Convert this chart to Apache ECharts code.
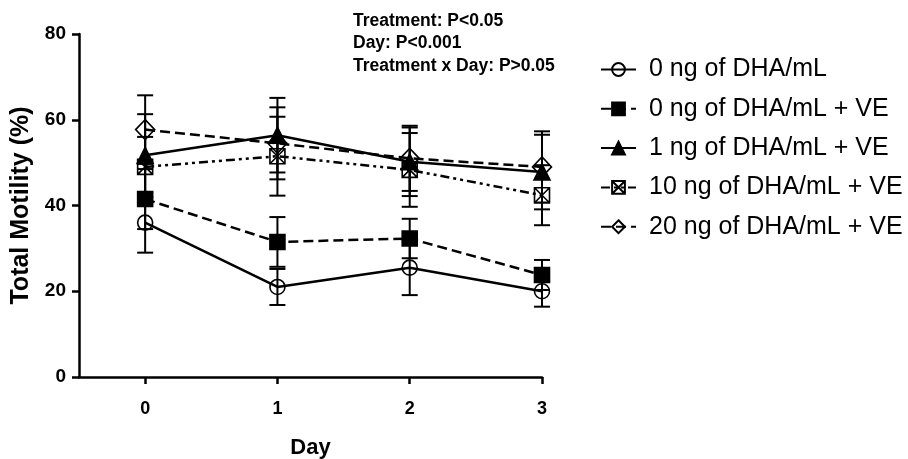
<!DOCTYPE html>
<html>
<head>
<meta charset="utf-8">
<script src="https://cdn.jsdelivr.net/npm/echarts@6/dist/echarts.min.js"></script>
<style>
html,body{margin:0;padding:0;background:#fff;}
#chart{width:908px;height:459px;}
</style>
</head>
<body>
<div id="chart"></div>
<script>
var days = [0, 1, 2, 3];
var dayTicks = [0, 1, 2, 3];
var yTicks = [0, 20, 40, 60, 80];
var seriesNames = ['0 ng of DHA/mL', '0 ng of DHA/mL + VE', '1 ng of DHA/mL + VE', '10 ng of DHA/mL + VE', '20 ng of DHA/mL + VE'];
var mean0 = [36, 21, 25.5, 20];
var sem0 = [7, 4.2, 6.4, 3.6];
var mean0VE = [41.5, 31.5, 32.3, 23.8];
var sem0VE = [7, 5.8, 4.6, 3.5];
var mean1VE = [51.7, 56.4, 50.2, 47.8];
var sem1VE = [9.6, 8.7, 8, 8.7];
var mean10VE = [49, 51.5, 48.3, 42.4];
var sem10VE = [7, 9.2, 8.6, 7];
var mean20VE = [57.7, 54.5, 51, 49];
var sem20VE = [8, 8.4, 7.6, 8.3];
var annotationLines = ['Treatment: P<0.05', 'Day: P<0.001', 'Treatment x Day: P>0.05'];

var FONT = '"Liberation Sans", Arial, sans-serif';
var means = [mean0, mean0VE, mean1VE, mean10VE, mean20VE];
var sems = [sem0, sem0VE, sem1VE, sem10VE, sem20VE];
var symbols = [
  'circle',
  'rect',
  'triangle',
  'path://M0,0L20,0L20,20L0,20Z M0,0L20,20 M20,0L0,20',
  'diamond'
];
var symbolSizes = [15, 15, 16, 15, [19, 20]];
var fills = ['rgba(255,255,255,0)', '#000', '#000', 'rgba(255,255,255,0)', 'rgba(255,255,255,0)'];
var dashes = ['solid', [10, 5], 'solid', [9, 4, 3, 4, 3, 4], [10, 5]];

function errSeries(i) {
  var data = days.map(function (d, k) {
    return [d, means[i][k] - sems[i][k], means[i][k] + sems[i][k]];
  });
  return {
    type: 'custom',
    name: seriesNames[i] + ' SEM',
    z: 1,
    silent: true,
    encode: { x: 0, y: [1, 2] },
    data: data,
    renderItem: function (params, api) {
      var x = api.value(0);
      var lo = api.coord([x, api.value(1)]);
      var hi = api.coord([x, api.value(2)]);
      var hw = 8;
      var st = { stroke: '#000', lineWidth: 2 };
      return {
        type: 'group',
        children: [
          { type: 'line', shape: { x1: lo[0], y1: lo[1], x2: hi[0], y2: hi[1] }, style: st },
          { type: 'line', shape: { x1: lo[0] - hw, y1: lo[1], x2: lo[0] + hw, y2: lo[1] }, style: st },
          { type: 'line', shape: { x1: hi[0] - hw, y1: hi[1], x2: hi[0] + hw, y2: hi[1] }, style: st }
        ]
      };
    }
  };
}

function lineSeries(i) {
  return {
    type: 'line',
    name: seriesNames[i],
    z: 3,
    data: days.map(function (d, k) { return [d, means[i][k]]; }),
    symbol: symbols[i],
    symbolSize: symbolSizes[i],
    showAllSymbol: true,
    lineStyle: { color: '#000', width: 2.5, type: dashes[i] },
    itemStyle: { color: fills[i], borderColor: '#000', borderWidth: 1.6 },
    emphasis: { disabled: true },
    animation: false
  };
}

var series = [];
for (var i = 0; i < 5; i++) series.push(errSeries(i));
for (var j = 0; j < 5; j++) series.push(lineSeries(j));

var chart = echarts.init(document.getElementById('chart'), null, { renderer: 'canvas' });
chart.setOption({
  animation: false,
  backgroundColor: '#fff',
  grid: { left: 79, right: 366, top: 34, bottom: 82, containLabel: false, outerBoundsMode: 'none' },
  xAxis: {
    type: 'value',
    min: -0.5,
    max: 3,
    name: 'Day',
    nameLocation: 'middle',
    nameGap: 60,
    nameTextStyle: { fontFamily: FONT, fontWeight: 'bold', fontSize: 22, color: '#000' },
    axisLine: { onZero: false, lineStyle: { color: '#000', width: 2.5 } },
    axisTick: { show: true, customValues: dayTicks, length: 7, lineStyle: { color: '#000', width: 2.5 } },
    axisLabel: { customValues: dayTicks, margin: 23, fontFamily: FONT, fontWeight: 'bold', fontSize: 18, color: '#000' },
    splitLine: { show: false }
  },
  yAxis: {
    type: 'value',
    min: 0,
    max: 80,
    interval: 20,
    name: 'Total Motility (%)',
    nameLocation: 'middle',
    nameGap: 39,
    nameRotate: 90,
    nameTextStyle: { fontFamily: FONT, fontWeight: 'bold', fontSize: 25, color: '#000' },
    axisLine: { show: true, onZero: false, lineStyle: { color: '#000', width: 2.5 } },
    axisTick: { show: true, length: 7, lineStyle: { color: '#000', width: 2.5 } },
    axisLabel: { margin: 13, fontFamily: FONT, fontWeight: 'bold', fontSize: 19, color: '#000' },
    splitLine: { show: false }
  },
  legend: {
    data: seriesNames,
    orient: 'vertical',
    left: 595,
    top: 52,
    itemWidth: 35,
    itemHeight: 16,
    itemGap: 14.3,
    selectedMode: false,
    textStyle: { fontFamily: FONT, fontSize: 25, color: '#000', lineHeight: 25, padding: [0, 0, 0, 8] }
  },
  graphic: annotationLines.map(function (t, k) {
    return {
      type: 'text',
      left: 353,
      top: 12 + k * 22.5,
      style: { text: t, font: 'bold 17.5px ' + FONT, fill: '#000' }
    };
  }),
  series: series
});
</script>
</body>
</html>
